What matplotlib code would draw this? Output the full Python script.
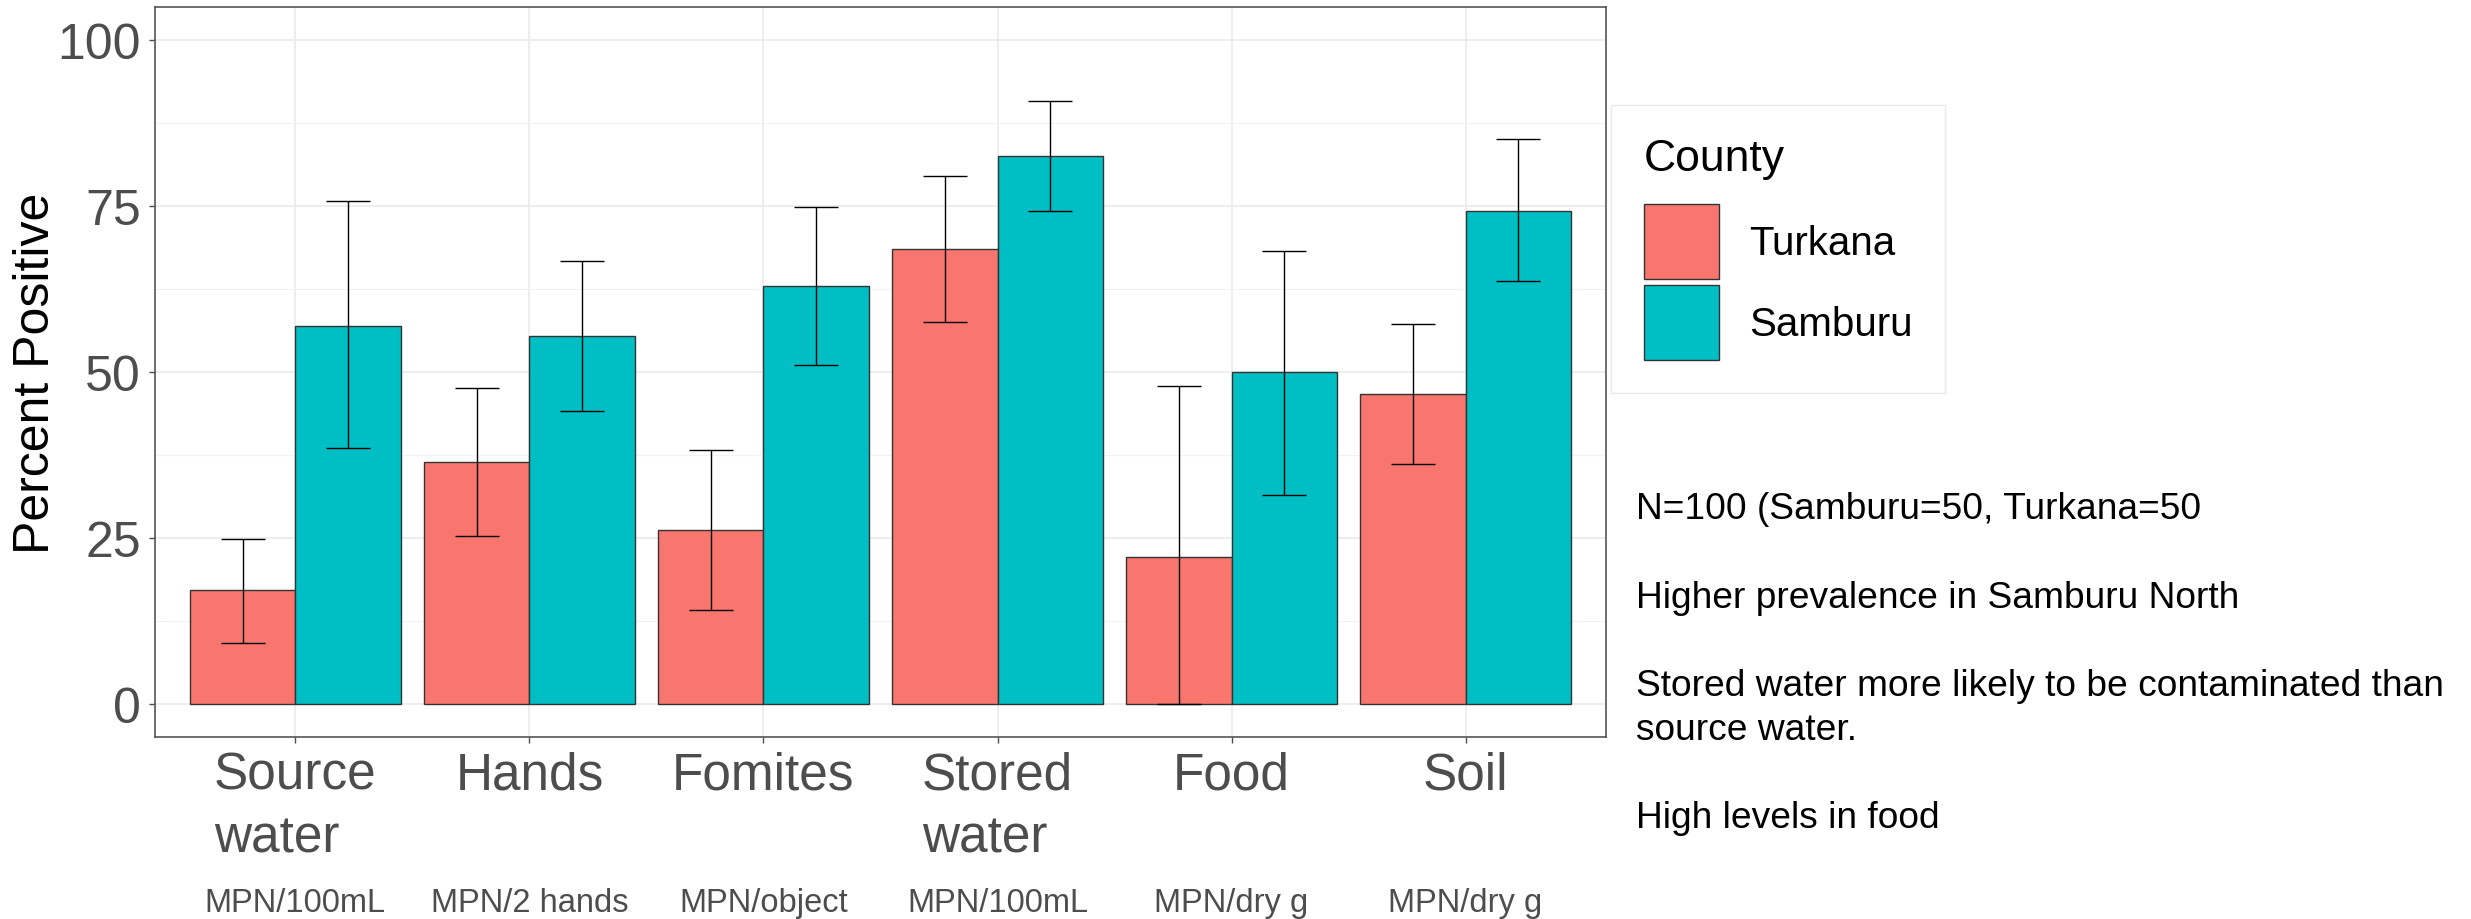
import numpy as np
import matplotlib.pyplot as plt
from matplotlib.patches import Patch
from matplotlib.transforms import blended_transform_factory

plt.rcParams['font.family'] = ['Liberation Sans', 'DejaVu Sans']

categories = ["Source\nwater", "Hands", "Fomites", "Stored\nwater", "Food", "Soil"]
units = ["MPN/100mL", "MPN/2 hands", "MPN/object", "MPN/100mL", "MPN/dry g", "MPN/dry g"]
counties = ["Turkana", "Samburu"]
colors = ["#F8766D", "#00BFC4"]

turkana = [17.1, 36.5, 26.2, 68.5, 22.1, 46.7]
turkana_lo = [9.2, 25.3, 14.1, 57.6, 0.0, 36.1]
turkana_hi = [24.9, 47.6, 38.2, 79.5, 47.9, 57.2]

samburu = [57.0, 55.4, 62.9, 82.6, 50.0, 74.3]
samburu_lo = [38.5, 44.1, 51.0, 74.3, 31.5, 63.7]
samburu_hi = [75.7, 66.8, 74.9, 90.9, 68.2, 85.1]

notes = [
    "N=100 (Samburu=50, Turkana=50",
    "Higher prevalence in Samburu North",
    "Stored water more likely to be contaminated than",
    "source water.",
    "High levels in food",
]
note_baselines = [519, 608, 696, 740, 828]

W, H = 2471, 920
fig = plt.figure(figsize=(W / 100, H / 100), dpi=100)
ax = fig.add_axes([155 / W, 1 - 738 / H, (1606 - 155) / W, (738 - 8) / H])

x = np.arange(1, len(categories) + 1)
bw = 0.45
series = [
    (turkana, turkana_lo, turkana_hi, -bw / 2),
    (samburu, samburu_lo, samburu_hi, bw / 2),
]
for (vals, lo, hi, off), col in zip(series, colors):
    vals = np.array(vals)
    ax.bar(x + off, vals, width=bw, color=col, edgecolor="#333333",
           linewidth=1.0, zorder=2)
    yerr = [vals - np.array(lo), np.array(hi) - vals]
    ax.errorbar(x + off, vals, yerr=yerr, fmt="none", ecolor="black",
                elinewidth=1.0, capsize=16, capthick=1.0, zorder=3)

ax.set_xlim(0.4, 6.6)
ax.set_ylim(-5, 105)
ax.set_yticks([0, 25, 50, 75, 100])
ax.set_yticks([12.5, 37.5, 62.5, 87.5], minor=True)
ax.set_xticks(x)
ax.set_xticklabels(categories)
for lab in ax.get_xticklabels():
    lab.set_multialignment("left")
    lab.set_linespacing(1.37)

ax.grid(which="major", color="#EBEBEB", linewidth=1.2, zorder=0)
ax.grid(which="minor", axis="y", color="#F3F3F3", linewidth=0.8, zorder=0)
ax.set_axisbelow(True)

for s in ax.spines.values():
    s.set_color("#555555")
    s.set_linewidth(1.2)

ax.tick_params(axis="both", which="major", colors="#4D4D4D", length=4, width=1)
ax.tick_params(axis="y", labelsize=36, pad=6)
ax.tick_params(axis="x", labelsize=37, pad=6)
ax.tick_params(which="minor", length=0)

fig.text(36 / W, 1 - 373 / H, "Percent Positive", rotation=90, fontsize=36,
         ha="center", va="center", color="black")

trans = blended_transform_factory(ax.transData, fig.transFigure)
for xi, u in zip(x, units):
    ax.text(xi, 1 - 912 / H, u, transform=trans, ha="center", va="baseline",
            fontsize=23.5, color="#4D4D4D")

handles = [Patch(facecolor=c, edgecolor="#333333", linewidth=1.0) for c in colors]
leg = fig.legend(handles, counties, title="County", loc="upper left",
                 bbox_to_anchor=(1611 / W, 1 - 106 / H), fontsize=29,
                 title_fontsize=32, frameon=True, fancybox=False,
                 edgecolor="#E5E5E5", borderpad=0.82, handlelength=1.85,
                 handleheight=2.49, labelspacing=0.15, handletextpad=0.75,
                 borderaxespad=0)
leg._legend_box.align = "left"
leg._legend_box.sep = 18
leg.get_frame().set_linewidth(1.0)

for t, b in zip(notes, note_baselines):
    fig.text(1636 / W, 1 - b / H, t, fontsize=26.7, ha="left", va="baseline",
             color="black")

fig.savefig("out.png", dpi=100)
